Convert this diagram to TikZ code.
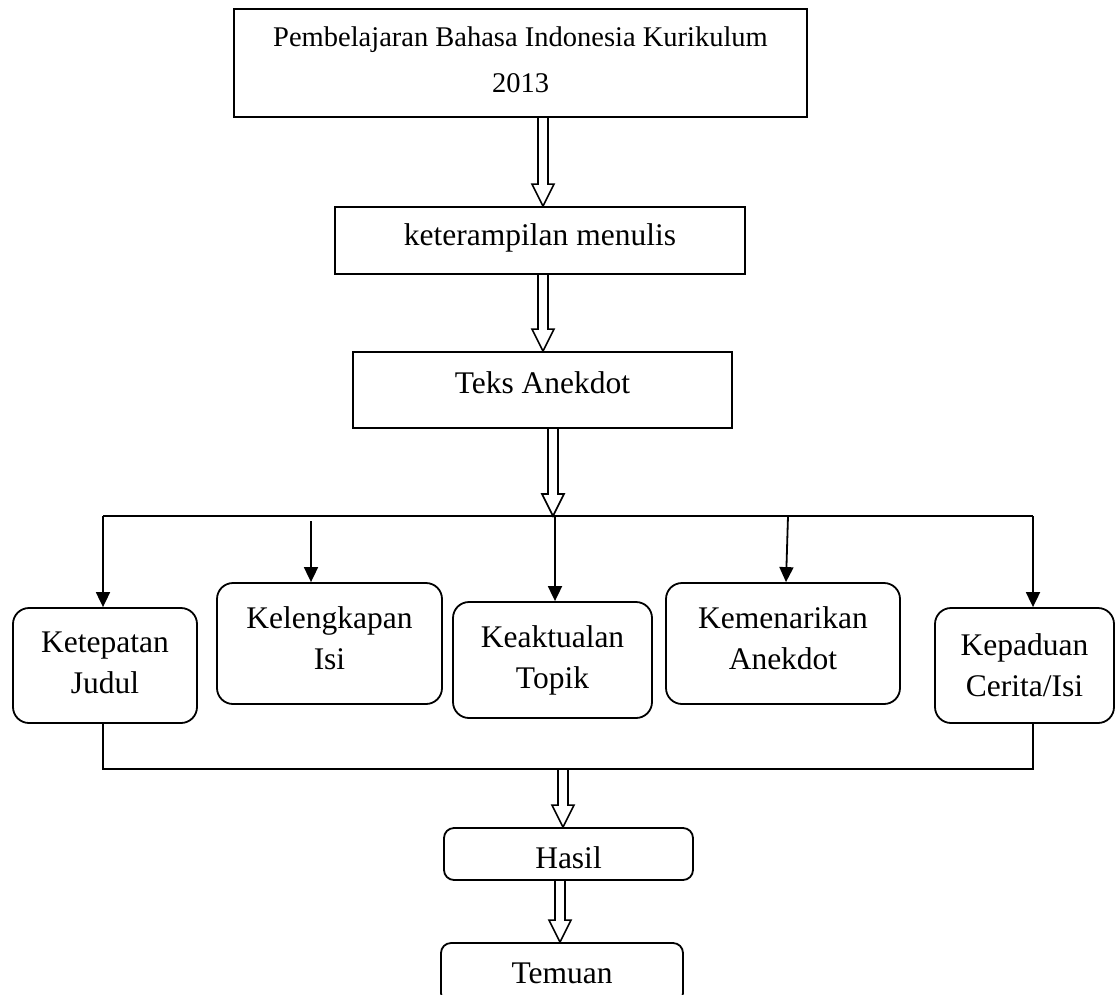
\documentclass[tikz,border=0pt]{standalone}
\usepackage{fontspec}
\setmainfont{Liberation Serif}
\usetikzlibrary{arrows.meta,calc}
\newcommand\fatarrow[3]{%
  \draw[fat] ($(#1 -| #3)+(-5,0)$) -- ($(#2 -| #3)+(-5,-22)$) -- ($(#2 -| #3)+(-11,-22)$) -- (#2 -| #3)
    -- ($(#2 -| #3)+(11,-22)$) -- ($(#2 -| #3)+(5,-22)$) -- ($(#1 -| #3)+(5,0)$);}
\begin{document}
\begin{tikzpicture}[x=1pt,y=-1pt,line width=1.8pt,
  sqbox/.style={draw, inner sep=0pt, align=center, font=\fontsize{31.5}{41}\selectfont},
  rbox/.style={draw, rounded corners=16pt, inner sep=0pt, align=center, font=\fontsize{31.5}{41}\selectfont},
  sbox/.style={draw, rounded corners=10pt, inner sep=0pt, align=center, font=\fontsize{31.5}{41}\selectfont},
  arr/.style={-{Triangle[length=15pt,width=14pt]}},
  fat/.style={line join=miter, line width=1.6pt}]
\clip (0,0) rectangle (1116,994);
\fill[white] (0,0) rectangle (1116,994);

\node[sqbox, minimum width=573pt, minimum height=108pt, text depth=6pt, font=\fontsize{28.5}{46}\selectfont] (top) at (520.5,63) {Pembelajaran Bahasa Indonesia Kurikulum\\2013};
\node[sqbox, minimum width=410pt, minimum height=67pt, text depth=12.5pt] (ket) at (540,240.5) {keterampilan menulis};
\node[sqbox, minimum width=379pt, minimum height=76pt, text depth=15.5pt] (teks) at (542.5,390) {Teks Anekdot};

\node[rbox, minimum width=184pt, minimum height=115pt, text depth=5.5pt] (judul) at (105,665.5) {Ketepatan\\Judul};
\node[rbox, minimum width=225pt, minimum height=121pt, text depth=11.5pt] (isi) at (329.5,643.5) {Kelengkapan\\Isi};
\node[rbox, minimum width=199pt, minimum height=116pt] (topik) at (552.5,660) {Keaktualan\\Topik};
\node[rbox, minimum width=234pt, minimum height=121pt, text depth=11.5pt] (anek) at (783,643.5) {Kemenarikan\\Anekdot};
\node[rbox, minimum width=179pt, minimum height=115pt] (cerita) at (1024.5,665.5) {Kepaduan\\Cerita/Isi};

\node[sbox, minimum width=249pt, minimum height=52pt, text height=30pt] (hasil) at (568.5,854) {Hasil};
\node[sbox, minimum width=242pt, minimum height=60pt] (temuan) at (562,973) {Temuan};

% fat arrows
\coordinate (f1) at (543,0);
\coordinate (f2) at (543,0);
\coordinate (busT) at (553,516);
\coordinate (busB) at (563,769);
\coordinate (f5) at (560,0);
\fatarrow{top.south}{ket.north}{f1}
\fatarrow{ket.south}{teks.north}{f2}
\fatarrow{teks.south}{busT}{busT}
\fatarrow{busB}{hasil.north}{busB}
\fatarrow{hasil.south}{temuan.north}{f5}

% distribution bus
\coordinate (bl) at (103,516);
\coordinate (br) at (1033,516);
\coordinate (a2) at (311,521);
\coordinate (a3) at (555,516);
\coordinate (a4) at (788,516);
\draw (bl) -- (br);
\draw[arr] (bl) -- (judul.north -| bl);
\draw[arr] (a2) -- (isi.north -| a2);
\draw[arr] (a3) -- (topik.north -| a3);
\draw[arr] (a4) -- ($(anek.north -| a4)+(-2,0)$);
\draw[arr] (br) -- (cerita.north -| br);

% collecting line
\coordinate (cl) at (103,769);
\coordinate (cr) at (1033,769);
\draw (judul.south -| cl) -- (cl) -- (cr) -- (cerita.south -| cr);
\end{tikzpicture}
\end{document}
